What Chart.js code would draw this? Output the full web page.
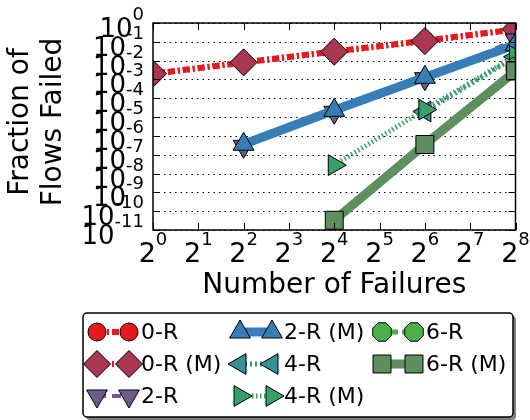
<!DOCTYPE html>
<html>
<head>
<meta charset="utf-8">
<script src="https://cdn.jsdelivr.net/npm/chart.js@4/dist/chart.umd.min.js"></script>
<style>
  html, body { margin: 0; padding: 0; background: #fff; }
  canvas { display: block; }
</style>
</head>
<body>
<canvas id="chart" width="530" height="420"></canvas>
<script>
// ==================================
// Data
// ==================================
const seriesLabels = ["0-R", "0-R (M)", "2-R", "2-R (M)", "4-R", "4-R (M)", "6-R", "6-R (M)"];

const failures0R = [1, 4, 16, 64, 256];
const frac0R = [2.0e-3, 7.9e-3, 3.1e-2, 1.15e-1, 4.6e-1];
const frac0RM = [2.0e-3, 8.1e-3, 3.0e-2, 1.1e-1, 4.6e-1];

const failures2R = [4, 16, 64, 256];
const frac2R = [2.8e-7, 1.8e-5, 1.1e-3, 1.25e-1];
const frac2RM = [3.6e-7, 2.3e-5, 1.3e-3, 7.0e-2];

const failures4R = [64, 256];
const frac4R = [2.0e-5, 1.6e-2];
const failures4RM = [16, 64, 256];
const frac4RM = [2.8e-8, 2.5e-5, 1.8e-2];

const failures6R = [256];
const frac6R = [4.5e-3];
const failures6RM = [16, 64, 256];
const frac6RM = [3.3e-11, 3.5e-7, 2.8e-3];

const xTickExps = [0, 1, 2, 3, 4, 5, 6, 7, 8];
const yTickExps = [0, -1, -2, -3, -4, -5, -6, -7, -8, -9, -10, -11];

const FONT = "DejaVu Sans";

// octagon marker for 6-R
function octagon(r, fill) {
  const c = document.createElement("canvas");
  const s = Math.ceil(r * 2 + 2);
  c.width = s; c.height = s;
  const g = c.getContext("2d");
  g.beginPath();
  for (let i = 0; i < 8; i++) {
    const a = Math.PI / 8 + i * Math.PI / 4;
    const px = s / 2 + r * Math.cos(a), py = s / 2 + r * Math.sin(a);
    i ? g.lineTo(px, py) : g.moveTo(px, py);
  }
  g.closePath();
  g.fillStyle = fill; g.fill();
  g.lineWidth = 1; g.strokeStyle = "#000"; g.stroke();
  return c;
}

const pts = (xs, ys) => xs.map((x, i) => ({ x, y: ys[i] }));

function series(i, xs, ys, o) {
  return {
    label: seriesLabels[i],
    data: pts(xs, ys),
    borderColor: o.line,
    borderWidth: o.width,
    borderDash: o.dash || [],
    backgroundColor: o.marker,
    pointBackgroundColor: o.marker,
    pointBorderColor: "#000",
    pointBorderWidth: 1,
    pointStyle: o.style,
    pointRotation: o.rot || 0,
    pointRadius: o.r,
    tension: 0,
    fill: false,
    clip: 0,
    order: 10 - i,
  };
}

const datasets = [
  series(0, failures0R, frac0R, { line: "#e41a1c", width: 6, dash: [7, 3, 2, 3], marker: "#e41a1c", style: "circle", r: 9 }),
  series(1, failures0R, frac0RM, { line: "#e41a1c", width: 6, dash: [2, 3], marker: "#a8374f", style: "rectRot", r: 13.5 }),
  series(2, failures2R, frac2R, { line: "#6e5a8c", width: 4, dash: [9, 6], marker: "#705a8a", style: "triangle", rot: 180, r: 12 }),
  series(3, failures2R, frac2RM, { line: "#377eb8", width: 9, marker: "#377eb8", style: "triangle", r: 12 }),
  series(4, failures4R, frac4R, { line: "#3a8f96", width: 5, dash: [2, 3], marker: "#3a8f96", style: "triangle", rot: 270, r: 12 }),
  series(5, failures4RM, frac4RM, { line: "#3aa06a", width: 5, dash: [1.5, 2.5], marker: "#3aa06a", style: "triangle", rot: 90, r: 12 }),
  series(6, failures6R, frac6R, { line: "#4daf4a", width: 5, dash: [6, 4], marker: "#4daf4a", style: "circle", r: 10 }),
  series(7, failures6RM, frac6RM, { line: "#5e8f5e", width: 9, marker: "#5e8f5e", style: "rect", r: 12.7 }),
];
datasets[6].pointStyle = octagon(10, "#4daf4a");

// ==================================
// Axes, grid, labels, legend
// ==================================
const decor = {
  id: "decor",
  beforeDatasetsDraw(chart) {
    const { ctx, chartArea: a, scales } = chart;
    ctx.save();
    ctx.strokeStyle = "#000";
    ctx.lineWidth = 1;
    ctx.setLineDash([1.5, 4]);
    yTickExps.forEach((e) => {
      const y = Math.round(scales.y.getPixelForValue(Math.pow(10, e))) + 0.5;
      ctx.beginPath();
      ctx.moveTo(a.left, y);
      ctx.lineTo(a.right, y);
      ctx.stroke();
    });
    ctx.restore();
  },
  afterDatasetsDraw(chart) {
    const { ctx, chartArea: a, scales } = chart;
    ctx.save();
    ctx.strokeStyle = "#000";
    ctx.fillStyle = "#000";
    ctx.lineWidth = 1.5;
    ctx.strokeRect(a.left, a.top, a.right - a.left, a.bottom - a.top);

    // inward ticks, all four sides
    ctx.lineWidth = 1;
    const tl = 7;
    xTickExps.forEach((k) => {
      const x = Math.round(scales.x.getPixelForValue(Math.pow(2, k))) + 0.5;
      ctx.beginPath();
      ctx.moveTo(x, a.bottom); ctx.lineTo(x, a.bottom - tl);
      ctx.moveTo(x, a.top); ctx.lineTo(x, a.top + tl);
      ctx.stroke();
    });
    yTickExps.forEach((e) => {
      const y = Math.round(scales.y.getPixelForValue(Math.pow(10, e))) + 0.5;
      ctx.beginPath();
      ctx.moveTo(a.left, y); ctx.lineTo(a.left + tl, y);
      ctx.moveTo(a.right, y); ctx.lineTo(a.right - tl, y);
      ctx.stroke();
    });

    // x tick labels 2^k
    ctx.textBaseline = "alphabetic";
    ctx.textAlign = "left";
    xTickExps.forEach((k) => {
      const x = scales.x.getPixelForValue(Math.pow(2, k));
      ctx.font = "27px " + FONT;
      const wb = ctx.measureText("2").width;
      ctx.font = "18px " + FONT;
      const we = ctx.measureText(String(k)).width;
      const x0 = x - (wb + we) / 2;
      ctx.font = "27px " + FONT;
      ctx.fillText("2", x0, 262);
      ctx.font = "18px " + FONT;
      ctx.fillText(String(k), x0 + wb, 245);
    });

    // y tick labels 10^e (they overlap, like the original)
    yTickExps.forEach((e) => {
      const y = scales.y.getPixelForValue(Math.pow(10, e));
      const exp = String(e);
      ctx.textAlign = "right";
      ctx.font = "18px " + FONT;
      const we = ctx.measureText(exp).width;
      ctx.fillText(exp, 144, y - 3);
      ctx.font = "26px " + FONT;
      ctx.fillText("10", 144 - we, y + 14);
    });

    // axis titles
    ctx.font = "28px " + FONT;
    ctx.textAlign = "center";
    ctx.fillText("Number of Failures", (a.left + a.right) / 2, 293);
    ctx.save();
    ctx.translate(0, 122);
    ctx.rotate(-Math.PI / 2);
    ctx.textBaseline = "middle";
    ctx.fillText("Fraction of", 0, 21);
    ctx.fillText("Flows Failed", 0, 54);
    ctx.restore();

    drawLegend(chart);
    ctx.restore();
  },
};

function drawLegend(chart) {
  const { ctx } = chart;
  const bx = 83, by = 313, bw = 430, bh = 104, rr = 4;
  ctx.save();
  ctx.fillStyle = "#7f7f7f";
  roundRect(ctx, bx + 3, by + 3, bw, bh, rr);
  ctx.fill();
  ctx.fillStyle = "#fff";
  roundRect(ctx, bx, by, bw, bh, rr);
  ctx.fill();
  ctx.strokeStyle = "#000";
  ctx.lineWidth = 1.5;
  ctx.stroke();

  const cols = [97, 240, 382];
  const rows = [332, 364, 396];
  chart.data.datasets.forEach((ds, i) => {
    const col = Math.floor(i / 3), row = i % 3;
    const x1 = cols[col], x2 = x1 + 32, y = rows[row];
    ctx.save();
    ctx.strokeStyle = ds.borderColor;
    ctx.lineWidth = ds.borderWidth;
    ctx.setLineDash(ds.borderDash);
    ctx.beginPath();
    ctx.moveTo(x1, y); ctx.lineTo(x2, y);
    ctx.stroke();
    ctx.restore();
    [x1, x2].forEach((x) => {
      ctx.save();
      ctx.fillStyle = ds.pointBackgroundColor;
      ctx.strokeStyle = "#000";
      ctx.lineWidth = 1;
      Chart.helpers.drawPoint(ctx, {
        pointStyle: ds.pointStyle,
        rotation: ds.pointRotation,
        radius: ds.pointRadius,
        borderWidth: 1,
      }, x, y);
      ctx.restore();
    });
    ctx.fillStyle = "#000";
    ctx.font = "22px " + FONT;
    ctx.textAlign = "left";
    ctx.textBaseline = "middle";
    ctx.fillText(ds.label, x2 + 12, y + 1);
  });
  ctx.restore();
}

function roundRect(ctx, x, y, w, h, r) {
  ctx.beginPath();
  ctx.moveTo(x + r, y);
  ctx.arcTo(x + w, y, x + w, y + h, r);
  ctx.arcTo(x + w, y + h, x, y + h, r);
  ctx.arcTo(x, y + h, x, y, r);
  ctx.arcTo(x, y, x + w, y, r);
  ctx.closePath();
}

new Chart(document.getElementById("chart"), {
  type: "line",
  data: { datasets },
  options: {
    responsive: false,
    animation: false,
    layout: { padding: { left: 153, top: 23, right: 13, bottom: 190 } },
    scales: {
      x: {
        type: "logarithmic", min: 1, max: 256,
        ticks: { display: false },
        grid: { display: false, drawTicks: false },
        border: { display: false },
      },
      y: {
        type: "logarithmic", min: 1e-11, max: 1,
        ticks: { display: false },
        grid: { display: false, drawTicks: false },
        border: { display: false },
      },
    },
    plugins: {
      legend: { display: false },
      tooltip: { enabled: false },
    },
  },
  plugins: [decor],
});
</script>
</body>
</html>
